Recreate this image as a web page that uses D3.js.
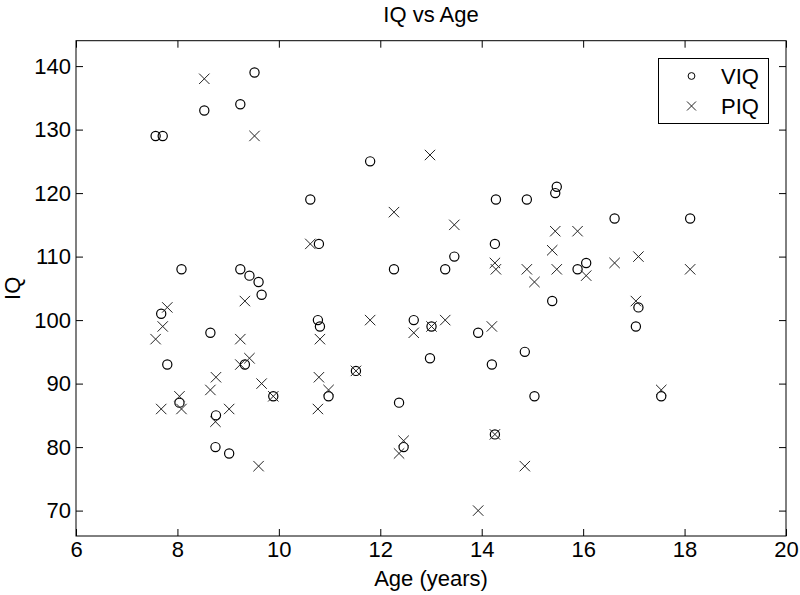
<!DOCTYPE html>
<html>
<head>
<meta charset="utf-8">
<script src="https://cdn.jsdelivr.net/npm/d3@7"></script>
<style>
  body { margin: 0; background: #fff; }
  svg { display: block; }
  text { font-family: "Liberation Sans", Arial, Helvetica, sans-serif; fill: #000; }
</style>
</head>
<body>
<svg id="chart" width="800" height="595"></svg>
<script>
// Data: age (years), verbal IQ, performance IQ
const age = [7.57, 7.71, 7.68, 7.80, 8.08, 8.04, 8.53, 8.65, 8.76, 8.75, 9.02, 9.24, 9.24, 9.33, 9.42, 9.52, 9.60, 9.66, 9.89,
             10.62, 10.79, 10.77, 10.81, 10.98, 11.52, 11.80, 12.27, 12.37, 12.46, 12.66, 12.98, 13.01, 13.28, 13.46, 13.93,
             14.28, 14.26, 14.20, 14.26, 14.89, 14.85, 15.04, 15.48, 15.45, 15.39, 15.89, 16.06, 16.62, 17.04, 17.09, 17.54, 18.11];
const viq = [129, 129, 101, 93, 108, 87, 133, 98, 85, 80, 79, 134, 108, 93, 107, 139, 106, 104, 88,
             119, 112, 100, 99, 88, 92, 125, 108, 87, 80, 100, 94, 99, 108, 110, 98,
             119, 112, 93, 82, 119, 95, 88, 121, 120, 103, 108, 109, 116, 99, 102, 88, 116];
const piq = [97, 99, 86, 102, 86, 88, 138, 89, 91, 84, 86, 97, 93, 103, 94, 129, 77, 90, 88,
             112, 91, 86, 97, 89, 92, 100, 117, 79, 81, 98, 126, 99, 100, 115, 70,
             108, 109, 99, 82, 108, 77, 106, 108, 114, 111, 114, 107, 109, 103, 110, 89, 108];
const xTicks = [6, 8, 10, 12, 14, 16, 18, 20];
const yTicks = [70, 80, 90, 100, 110, 120, 130, 140];
const seriesNames = ["VIQ", "PIQ"];
const titleText = "IQ vs Age";
const xLabel = "Age (years)";
const yLabel = "IQ";

const svg = d3.select("#chart");
const W = 800, H = 595;
const m = { left: 76, right: 14, top: 40.7, bottom: 59 };
const pw = W - m.left - m.right, ph = H - m.top - m.bottom;
const FS = 22;

const x = d3.scaleLinear().domain([6, 20]).range([m.left, m.left + pw]);
const y = d3.scaleLinear().domain([66, 144]).range([m.top + ph, m.top]);

const g = svg.append("g");

function styleAxis(sel, showLabels) {
  sel.select(".domain").remove();
  sel.selectAll(".tick line").attr("stroke", "#000").attr("stroke-width", 1);
  sel.selectAll(".tick text").style("font-size", FS + "px").attr("fill", "#000");
  if (!showLabels) sel.selectAll(".tick text").remove();
}

const tick = 7;
g.append("g").attr("transform", `translate(0,${m.top + ph})`)
  .call(d3.axisBottom(x).tickValues(xTicks).tickSize(-tick).tickPadding(5).tickFormat(d3.format("d")))
  .call(s => styleAxis(s, true));
g.append("g").attr("transform", `translate(0,${m.top})`)
  .call(d3.axisTop(x).tickValues(xTicks).tickSize(-tick).tickFormat(""))
  .call(s => styleAxis(s, false));
g.append("g").attr("transform", `translate(${m.left},0)`)
  .call(d3.axisLeft(y).tickValues(yTicks).tickSize(-tick).tickPadding(5).tickFormat(d3.format("d")))
  .call(s => styleAxis(s, true));
g.append("g").attr("transform", `translate(${m.left + pw},0)`)
  .call(d3.axisRight(y).tickValues(yTicks).tickSize(-tick).tickFormat(""))
  .call(s => styleAxis(s, false));

// Box
g.append("rect").attr("x", m.left).attr("y", m.top).attr("width", pw).attr("height", ph)
  .attr("fill", "none").attr("stroke", "#000").attr("stroke-width", 1);

const idx = d3.range(age.length);
const R = 4.6, XS = 5.2;

// VIQ circles
g.append("g").selectAll("circle").data(idx).join("circle")
  .attr("cx", i => x(age[i])).attr("cy", i => y(viq[i])).attr("r", R)
  .attr("fill", "none").attr("stroke", "#000").attr("stroke-width", 1.2);

// PIQ crosses
g.append("g").selectAll("path").data(idx).join("path")
  .attr("d", i => {
    const cx = x(age[i]), cy = y(piq[i]);
    return `M${cx - XS},${cy - XS}L${cx + XS},${cy + XS}M${cx - XS},${cy + XS}L${cx + XS},${cy - XS}`;
  })
  .attr("fill", "none").attr("stroke", "#222").attr("stroke-width", 1);

// Titles
svg.append("text").attr("x", m.left + pw / 2).attr("y", 22).attr("text-anchor", "middle")
  .style("font-size", FS + "px").text(titleText);
svg.append("text").attr("x", m.left + pw / 2).attr("y", 586).attr("text-anchor", "middle")
  .style("font-size", FS + "px").text(xLabel);
svg.append("text").attr("transform", `translate(20,${m.top + ph / 2}) rotate(-90)`).attr("text-anchor", "middle")
  .style("font-size", FS + "px").text(yLabel);

// Legend
const lg = svg.append("g");
lg.append("rect").attr("x", 658.5).attr("y", 58.5).attr("width", 110).attr("height", 65)
  .attr("fill", "#fff").attr("stroke", "#000").attr("stroke-width", 1);
const rowsY = [76, 106];
lg.append("circle").attr("cx", 691.5).attr("cy", rowsY[0]).attr("r", 3.4)
  .attr("fill", "none").attr("stroke", "#000").attr("stroke-width", 1);
const lx = 691.5, ly = rowsY[1], ls = 4.5;
lg.append("path").attr("d", `M${lx - ls},${ly - ls}L${lx + ls},${ly + ls}M${lx - ls},${ly + ls}L${lx + ls},${ly - ls}`)
  .attr("stroke", "#222").attr("stroke-width", 1).attr("fill", "none");
seriesNames.forEach((n, k) => {
  lg.append("text").attr("x", 721).attr("y", rowsY[k]).attr("dy", "0.36em")
    .style("font-size", FS + "px").text(n);
});
</script>
</body>
</html>
